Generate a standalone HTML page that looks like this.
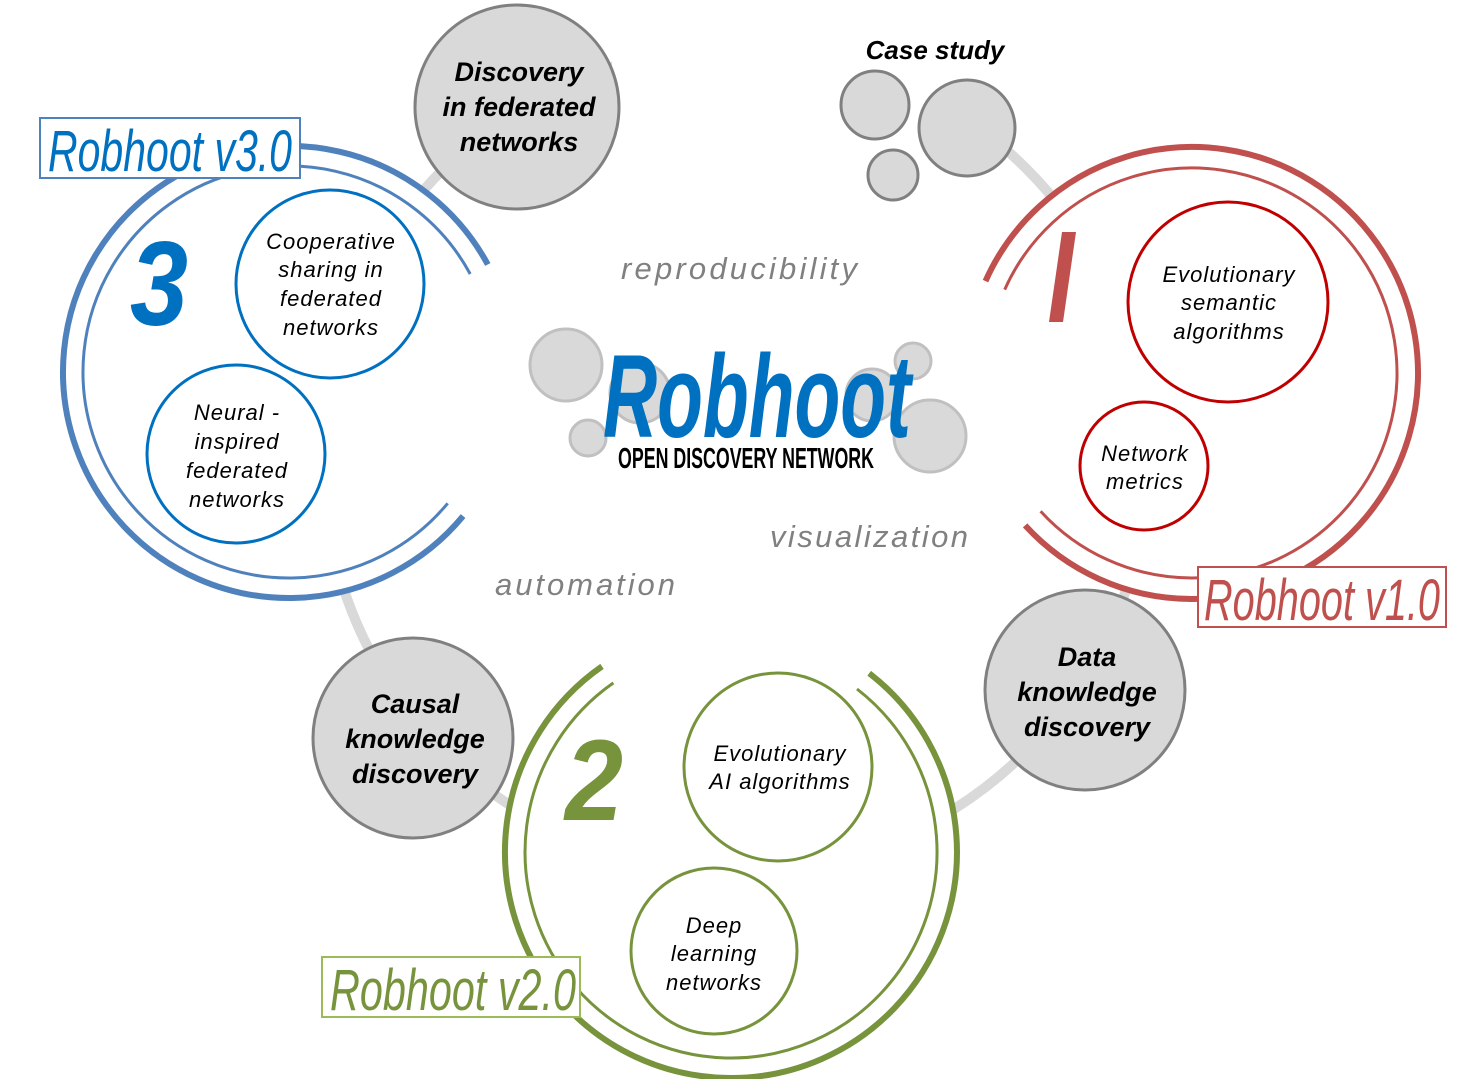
<!DOCTYPE html>
<html><head><meta charset="utf-8"><style>
html,body{margin:0;padding:0;background:#fff;}
svg{display:block;}
text{font-family:"Liberation Sans",sans-serif;}
</style></head><body>
<svg width="1476" height="1079" viewBox="0 0 1476 1079" xmlns="http://www.w3.org/2000/svg">
<!-- big grey ring -->
<circle cx="735" cy="460" r="412" fill="none" stroke="#d9d9d9" stroke-width="10"/>
<rect x="612" y="20" width="350" height="82" fill="#fff"/>
<!-- white covers for groups -->
<circle cx="1192" cy="373" r="224" fill="#fff"/>
<circle cx="289" cy="372" r="224" fill="#fff"/>
<circle cx="731" cy="852" r="224" fill="#fff"/>
<rect x="470" y="230" width="540" height="380" fill="#fff"/>

<!-- red group arcs -->
<path d="M985.5,281.1 A226,226 0 1 1 1025.1,525.4" fill="none" stroke="#c0504d" stroke-width="6"/>
<path d="M1004.7,289.6 A205,205 0 1 1 1040.6,511.2" fill="none" stroke="#c0504d" stroke-width="3"/>
<!-- blue group arcs -->
<path d="M463.1,516.1 A226,226 0 1 1 487.8,264.5" fill="none" stroke="#4f81bd" stroke-width="6"/>
<path d="M447.7,503.3 A206,206 0 1 1 470.2,274.0" fill="none" stroke="#4f81bd" stroke-width="3"/>
<!-- green group arcs -->
<path d="M869.2,673.2 A226,226 0 1 1 602.0,666.4" fill="none" stroke="#77933c" stroke-width="6"/>
<path d="M857,689 A206,206 0 1 1 613.4,682.9" fill="none" stroke="#77933c" stroke-width="3"/>

<!-- grey nodes -->
<g fill="#d9d9d9" stroke="#808080" stroke-width="3">
<circle cx="517" cy="107" r="102"/>
<circle cx="413" cy="738" r="100"/>
<circle cx="1085" cy="690" r="100"/>
<circle cx="875" cy="105" r="34"/>
<circle cx="967" cy="128" r="48"/>
<circle cx="893" cy="175" r="25"/>
</g>
<g font-size="27" font-weight="bold" text-anchor="middle" fill="#000" font-style="italic">
<text x="519" y="81">Discovery</text>
<text x="519" y="116">in federated</text>
<text x="519" y="151">networks</text>
<text x="415" y="713">Causal</text>
<text x="415" y="748">knowledge</text>
<text x="415" y="783">discovery</text>
<text x="1087" y="666">Data</text>
<text x="1087" y="701">knowledge</text>
<text x="1087" y="736">discovery</text>
</g>
<text x="935" y="59" font-size="26" font-style="italic" font-weight="bold" text-anchor="middle">Case study</text>

<!-- inner circles -->
<g fill="#fff" stroke-width="3">
<circle cx="1228" cy="302" r="100" stroke="#c00000"/>
<circle cx="1144" cy="466" r="64" stroke="#c00000"/>
<circle cx="330" cy="284" r="94" stroke="#0070c0"/>
<circle cx="236" cy="454" r="89" stroke="#0070c0"/>
<circle cx="778" cy="767" r="94" stroke="#77933c"/>
<circle cx="714" cy="951" r="83" stroke="#77933c"/>
</g>
<g font-size="22" font-style="italic" text-anchor="middle" fill="#000" letter-spacing="1">
<text x="1229" y="282">Evolutionary</text>
<text x="1229" y="310">semantic</text>
<text x="1229" y="339">algorithms</text>
<text x="1145" y="461">Network</text>
<text x="1145" y="489">metrics</text>
<text x="331" y="249">Cooperative</text>
<text x="331" y="277">sharing in</text>
<text x="331" y="306">federated</text>
<text x="331" y="335">networks</text>
<text x="237" y="420">Neural -</text>
<text x="237" y="449">inspired</text>
<text x="237" y="478">federated</text>
<text x="237" y="507">networks</text>
<text x="780" y="761">Evolutionary</text>
<text x="780" y="789">AI  algorithms</text>
<text x="714" y="933">Deep</text>
<text x="714" y="961">learning</text>
<text x="714" y="990">networks</text>
</g>

<!-- big numbers -->
<text x="130" y="325" font-size="120" font-weight="bold" font-style="italic" fill="#0070c0" textLength="58" lengthAdjust="spacingAndGlyphs">3</text>
<polygon points="1062,232 1076,232 1063,322 1049,322" fill="#c0504d"/>
<text x="565" y="820" font-size="115" font-weight="bold" font-style="italic" fill="#77933c" textLength="58" lengthAdjust="spacingAndGlyphs">2</text>

<!-- version labels -->
<rect x="40" y="118" width="260" height="60" fill="#fff" stroke="#4f81bd" stroke-width="2"/>
<text x="48" y="171" font-size="58" fill="#0070c0" font-style="italic" textLength="244" lengthAdjust="spacingAndGlyphs">Robhoot v3.0</text>
<rect x="1198" y="567" width="248" height="60" fill="#fff" stroke="#c0504d" stroke-width="2"/>
<text x="1204" y="620" font-size="58" fill="#c0504d" font-style="italic" textLength="236" lengthAdjust="spacingAndGlyphs">Robhoot v1.0</text>
<rect x="322" y="957" width="258" height="60" fill="#fff" stroke="#9bbb59" stroke-width="2"/>
<text x="330" y="1010" font-size="58" fill="#77933c" font-style="italic" textLength="246" lengthAdjust="spacingAndGlyphs">Robhoot v2.0</text>

<!-- center logo -->
<g fill="#d9d9d9" stroke="#c0c0c0" stroke-width="3">
<circle cx="566" cy="365" r="36"/>
<circle cx="588" cy="438" r="18"/>
<circle cx="640" cy="393" r="30"/>
<circle cx="872" cy="395" r="26"/>
<circle cx="913" cy="361" r="18"/>
<circle cx="930" cy="436" r="36"/>
</g>
<text x="603" y="437" font-size="118" font-weight="bold" font-style="italic" fill="#0070c0" textLength="308" lengthAdjust="spacingAndGlyphs">Robhoot</text>
<text x="618" y="468" font-size="29" font-weight="bold" fill="#000" textLength="256" lengthAdjust="spacingAndGlyphs">OPEN DISCOVERY NETWORK</text>

<!-- grey keywords -->
<g font-size="31" font-style="italic" fill="#808080">
<text x="621" y="279" textLength="236" lengthAdjust="spacing">reproducibility</text>
<text x="770" y="547" textLength="198" lengthAdjust="spacing">visualization</text>
<text x="495" y="595" textLength="180" lengthAdjust="spacing">automation</text>
</g>
</svg>
</body></html>
